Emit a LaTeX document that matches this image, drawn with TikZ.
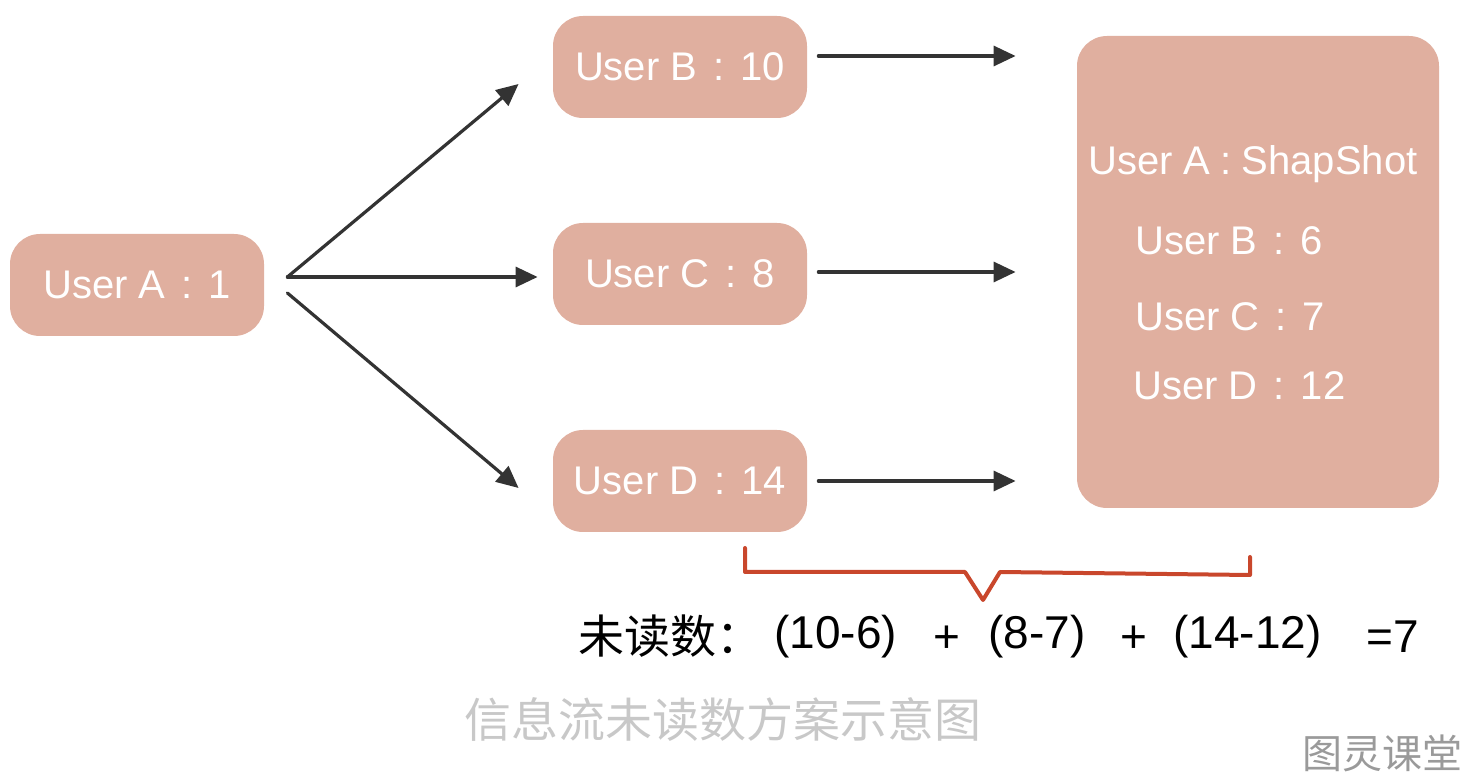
\documentclass[tikz,border=0pt]{standalone}
\usepackage{fontspec}
\setmainfont{Liberation Sans}
\newfontfamily\cjk{Noto Sans CJK SC}
\usetikzlibrary{arrows.meta,calc}
\definecolor{boxc}{HTML}{E0AF9F}
\definecolor{arrc}{HTML}{333333}
\definecolor{bracec}{HTML}{C9472C}
\definecolor{capc}{HTML}{C8C8C8}
\definecolor{wmc}{HTML}{9A9A9A}
\newcommand{\csep}{\hspace{8pt}:\hspace{8pt}}
\tikzset{
  ubox/.style={fill=boxc, rounded corners=15pt, minimum width=127pt, minimum height=51pt, inner sep=0pt, text=white, font=\fontsize{20}{24}\selectfont},
  bigbox/.style={fill=boxc, rounded corners=15pt, minimum width=181pt, minimum height=236pt, inner sep=0pt},
  btext/.style={text=white, font=\fontsize{20}{24}\selectfont, inner sep=0pt, anchor=west},
  arr/.style={draw=arrc, line width=1.6pt, line cap=round, -{Triangle[length=11pt,width=10pt]}},
  brace/.style={draw=bracec, line width=2pt, line cap=round, line join=round},
  ftext/.style={text=black, font=\fontsize{23}{27}\selectfont, inner sep=0pt},
}
\begin{document}
\begin{tikzpicture}[x=0.5pt,y=-0.5pt]
\useasboundingbox (0,0) rectangle (1474,780);
% boxes
\node[ubox] (A) at (137,285) {User A\csep 1};
\node[ubox] (B) at (680,67) {User B\csep 10};
\node[ubox] (C) at (680,274) {User C\csep 8};
\node[ubox] (D) at (680,481) {User D\csep 14};
\node[bigbox] (S) at (1258,272) {};
\node[btext] (s1) at (1088,164) {User A\hspace{5pt}:\hspace{5pt}ShapShot};
\node[btext] (s2) at (1135,241) {User B\csep 6};
\node[btext] (s3) at (1135,317) {User C\csep 7};
\node[btext] (s4) at (1133,386) {User D\csep 12};
% arrows from A
\draw[arr] ($(A.east)+(23,-8)$) -- ($(B.west)+(-34,17)$);
\draw[arr] ($(A.east)+(23,-8)$) -- ($(C.west)+(-15,3)$);
\draw[arr] ($(A.east)+(23,8)$) -- ($(D.west)+(-34,7)$);
% arrows to snapshot
\coordinate (eB) at ($(S.west |- B.east)+(-61,-11)$);
\coordinate (eC) at ($(S.west |- C.east)+(-61,-2)$);
\coordinate (eD) at ($(S.west |- D.east)+(-61,0)$);
\draw[arr] ($(B.east)+(11,-11)$) -- (eB);
\draw[arr] ($(C.east)+(11,-2)$) -- (eC);
\draw[arr] ($(D.east)+(11,0)$) -- (eD);
% brace
\coordinate (b1) at (745,548);
\coordinate (b2) at (745,572);
\coordinate (b3) at (965,572);
\coordinate (b4) at (983,600);
\coordinate (b5) at (1000,572);
\coordinate (b6) at (1250,575);
\coordinate (b7) at (1250,557);
\draw[brace] (b1) -- (b2) -- (b3) -- (b4) -- (b5) -- (b6) -- (b7);
% formula
\node[ftext, anchor=west] (f0) at (578,636) {\cjk 未读数：};
\node[ftext, anchor=west] (f1) at (774,637) {(10-6)};
\node[ftext] (f2) at (947,639) {+};
\node[ftext, anchor=west] (f3) at (988,637) {(8-7)};
\node[ftext] (f4) at (1134,639) {+};
\node[ftext, anchor=west] (f5) at (1173,637) {(14-12)};
\node[ftext, anchor=west] (f6) at (1366,637) {=7};
% caption
\node[text=capc, font=\cjk\fontsize{23.5}{26}\selectfont, inner sep=0pt] (cap) at (723,720) {信息流未读数方案示意图};
\node[text=wmc, font=\cjk\fontsize{20}{24}\selectfont, inner sep=0pt] (wm) at (1382,753) {图灵课堂};
\end{tikzpicture}
\end{document}
